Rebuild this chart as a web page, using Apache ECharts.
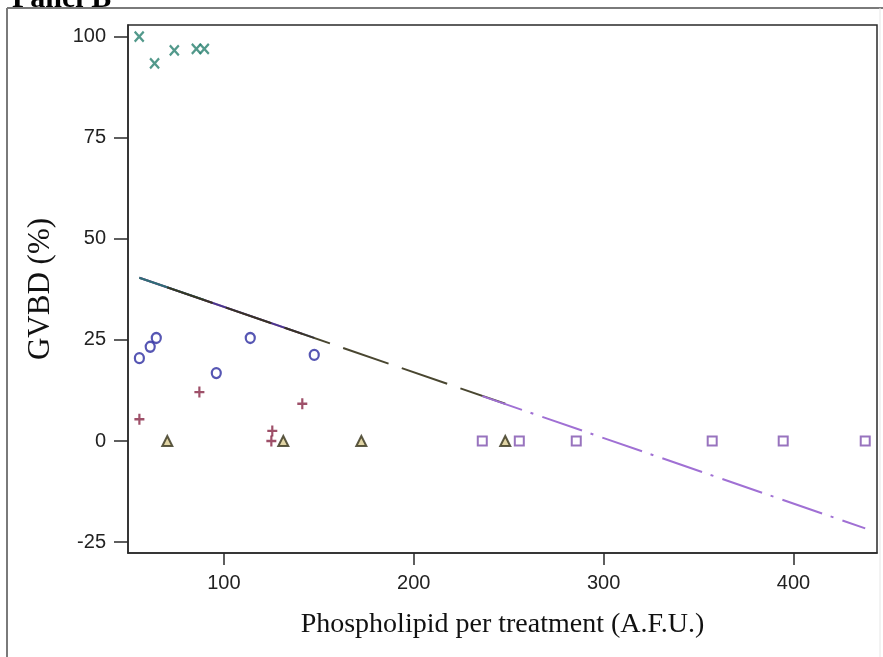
<!DOCTYPE html>
<html>
<head>
<meta charset="utf-8">
<script src="https://cdn.jsdelivr.net/npm/echarts@6/dist/echarts.min.js"></script>
<style>
html,body{margin:0;padding:0;background:#fff;}
#chart{width:883px;height:657px;}
</style>
</head>
<body>
<div id="chart"></div>
<script>
// ---- data ----
const xTicks = [100, 200, 300, 400];
const yTicks = [-25, 0, 25, 50, 75, 100];

// group "x" (teal crosses)
const crossX = [55.4, 63.5, 73.9, 85.5, 89.7];
const crossY = [100, 93.4, 96.6, 97.0, 97.0];
// group "o" (blue circles)
const circleX = [55.5, 61.2, 64.4, 96.0, 113.9, 147.6];
const circleY = [20.5, 23.3, 25.5, 16.8, 25.5, 21.3];
// group "+" (red pluses)
const plusX = [55.5, 87.1, 125.5, 125.0, 141.3];
const plusY = [5.4, 12.1, 2.5, 0, 9.2];
// group triangles
const triX = [70.2, 131.3, 172.4, 248.2];
const triY = [0, 0, 0, 0];
// group squares
const sqX = [236.1, 255.6, 285.6, 357.2, 394.6, 437.8];
const sqY = [0, 0, 0, 0, 0, 0];

// fitted line end points, per group
const fitCrossX = [55.4, 89.7];   const fitCrossY = [40.4, 34.9];
const fitCircleX = [55.5, 147.6]; const fitCircleY = [40.4, 25.5];
const fitPlusX = [55.5, 141.3];   const fitPlusY = [40.4, 26.5];
const fitTriX = [70.2, 248.2];    const fitTriY = [38.0, 9.2];
const fitSqX = [236.1, 437.8];    const fitSqY = [11.1, -21.6];

const xName = 'Phospholipid per treatment (A.F.U.)';
const yName = 'GVBD (%)';
const panelTitle = 'Panel B';

const zip = (a, b) => a.map((v, i) => [v, b[i]]);

const C_TEAL = '#27806e', C_BLUE = '#2c2ca0', C_RED = '#862444',
      C_TRI = '#35321a', C_TRI_FILL = '#d8c98e', C_SQ = '#7e50ae', C_SQ_LINE = '#a070d4';

const chart = echarts.init(document.getElementById('chart'), null, {renderer: 'canvas'});

function lineSeries(xs, ys, color, type, z, opacity) {
  return {
    type: 'line', data: zip(xs, ys), showSymbol: false, symbol: 'none',
    silent: true, z: z, animation: false,
    lineStyle: {color: color, width: 2, type: type, opacity: opacity == null ? 1 : opacity}
  };
}
function scatterSeries(xs, ys, symbol, size, style) {
  return {
    type: 'scatter', data: zip(xs, ys), symbol: symbol, symbolSize: size,
    z: 5, animation: false, itemStyle: style
  };
}

chart.setOption({
  animation: false,
  backgroundColor: '#fff',
  grid: {left: 128, right: 6, top: 25, bottom: 104, show: true,
         borderColor: '#2a2a2a', borderWidth: 1.5, backgroundColor: 'transparent'},
  xAxis: {
    type: 'value', min: 49.5, max: 444,
    name: xName, nameLocation: 'middle', nameGap: 58,
    nameTextStyle: {fontFamily: 'Liberation Serif', fontSize: 28, color: '#111'},
    axisLine: {show: true, onZero: false, lineStyle: {color: '#2a2a2a', width: 1.5}},
    axisTick: {show: true, length: 12, lineStyle: {color: '#2a2a2a', width: 1.5}, customValues: xTicks},
    axisLabel: {fontFamily: 'Liberation Sans', fontSize: 20, color: '#222', margin: 20, customValues: xTicks},
    splitLine: {show: false}
  },
  yAxis: {
    type: 'value', min: -27.7, max: 102.9,
    name: yName, nameLocation: 'middle', nameGap: 72, nameRotate: 90,
    nameTextStyle: {fontFamily: 'Liberation Serif', fontSize: 31, color: '#111'},
    axisLine: {show: true, onZero: false, lineStyle: {color: '#2a2a2a', width: 1.5}},
    axisTick: {show: true, length: 14, lineStyle: {color: '#2a2a2a', width: 1.5}, customValues: yTicks},
    axisLabel: {fontFamily: 'Liberation Sans', fontSize: 20, color: '#222', margin: 22, customValues: yTicks},
    splitLine: {show: false}
  },
  graphic: [
    {type: 'line', shape: {x1: 7, y1: 8, x2: 883, y2: 8}, style: {stroke: '#7a7a7a', lineWidth: 2}, z: 100},
    {type: 'line', shape: {x1: 7, y1: 8, x2: 7, y2: 657}, style: {stroke: '#7a7a7a', lineWidth: 2}, z: 100},
    {type: 'line', shape: {x1: 880, y1: 8, x2: 880, y2: 657}, style: {stroke: '#e6e6e6', lineWidth: 1}, z: 100},
    {type: 'text', left: 12, top: -16, z: 90,
     style: {text: panelTitle, font: 'bold 30px "Liberation Serif"', fill: '#000'}}
  ],
  series: [
    lineSeries(fitPlusX, fitPlusY, C_RED, 'solid', 2, 0.8),
    lineSeries(fitCircleX, fitCircleY, C_BLUE, 'solid', 2, 0.75),
    lineSeries(fitCrossX, fitCrossY, C_TEAL, 'solid', 2, 0.75),
    lineSeries(fitTriX, fitTriY, C_TRI, [48, 14], 3, 0.9),
    lineSeries(fitSqX, fitSqY, C_SQ_LINE, [42, 9, 3, 9.5], 3, 1),
    scatterSeries(crossX, crossY, 'path://M0,0L10,10M10,0L0,10', [9, 10],
      {color: 'none', borderColor: C_TEAL, borderWidth: 2.3}),
    scatterSeries(circleX, circleY, 'circle', [9, 10],
      {color: 'none', borderColor: C_BLUE, borderWidth: 2.3}),
    scatterSeries(plusX, plusY, 'path://M5,0L5,10M0,5L10,5', [10, 11],
      {color: 'none', borderColor: C_RED, borderWidth: 2.3}),
    scatterSeries(triX, triY, 'triangle', [10, 10],
      {color: C_TRI_FILL, borderColor: C_TRI, borderWidth: 2}),
    scatterSeries(sqX, sqY, 'rect', [9, 9],
      {color: 'none', borderColor: C_SQ, borderWidth: 2})
  ]
});
</script>
</body>
</html>
